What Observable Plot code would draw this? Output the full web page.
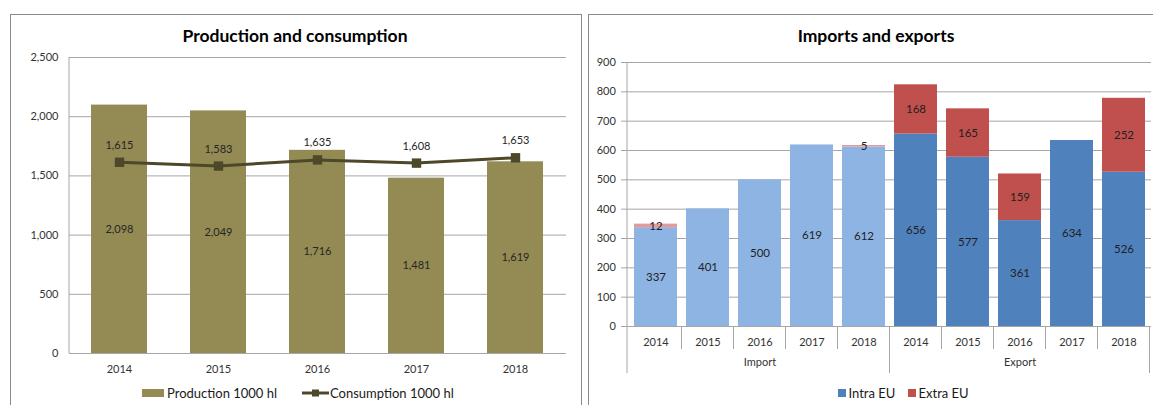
<!DOCTYPE html>
<html>
<head>
<meta charset="utf-8">
<script src="https://cdn.jsdelivr.net/npm/d3@7"></script>
<script src="https://cdn.jsdelivr.net/npm/@observablehq/plot@0.6"></script>
<style>
  html, body { margin: 0; padding: 0; background: #fff; }
  body { width: 1153px; height: 405px; overflow: hidden; position: relative; font-family: Lato, "Open Sans", sans-serif; }
  .panel { position: absolute; top: 14px; height: 430px; border: 1px solid #8a8a8a; box-sizing: border-box; }
  .title { position: absolute; top: 25px; font-weight: bold; font-size: 17.5px; color: #000; transform: translateX(-50%); white-space: nowrap; line-height: 22px; }
  .chart { position: absolute; top: 45px; }
  .item { position: absolute; top: 384px; height: 18px; display: flex; align-items: center; font-size: 13px; color: #1a1a1a; white-space: nowrap; }
  .sw { display: inline-block; margin-right: 3px; }
</style>
</head>
<body>
<div class="panel" style="left:10px; width:572px;"></div>
<div class="panel" style="left:588px; width:600px;"></div>
<div class="title" style="left:295px;">Production and consumption</div>
<div class="title" style="left:876px;">Imports and exports</div>
<div id="left" class="chart" style="left:0px;"></div>
<div id="right" class="chart" style="left:588px;"></div>

<div class="item" style="left:142px;"><span class="sw" style="width:22px;height:8px;background:#948A54;"></span>Production 1000 hl</div>
<div class="item" style="left:302px;">
  <svg width="27" height="10" style="margin-right:1px"><line x1="0" x2="27" y1="5" y2="5" stroke="#4D4829" stroke-width="3"/><rect x="10" y="1.5" width="7" height="7" fill="#4D4829"/></svg>Consumption 1000 hl</div>
<div class="item" style="left:838px;"><span class="sw" style="width:7.5px;height:7.5px;background:#4F81BD;"></span>Intra EU</div>
<div class="item" style="left:908px;"><span class="sw" style="width:7.5px;height:7.5px;background:#C0504D;"></span>Extra EU</div>

<script>
// Production and consumption, 1000 hl
const years = ["2014", "2015", "2016", "2017", "2018"];
const production = [2098, 2049, 1716, 1481, 1619];
const consumption = [1615, 1583, 1635, 1608, 1653];
const leftTicks = [0, 500, 1000, 1500, 2000, 2500];

// Imports and exports, split into intra‑EU and extra‑EU trade
const flows = ["Import", "Export"];
const origins = ["Intra EU", "Extra EU"];
const importIntra = [337, 401, 500, 619, 612];
const importExtra = [12, 0, 0, 0, 5];
const exportIntra = [656, 577, 361, 634, 526];
const exportExtra = [168, 165, 159, 0, 252];
const rightTicks = [0, 100, 200, 300, 400, 500, 600, 700, 800, 900];

const fmt = d3.format(",");
const gridColor = "#a6a6a6";
const baseStyle = {fontFamily: "Lato, 'Open Sans', sans-serif", fontSize: "11px", color: "#333", background: "transparent", overflow: "visible"};

// ---- left chart ----
const prodRows = years.map((year, i) => ({year, value: production[i]}));
const consRows = years.map((year, i) => ({year, value: consumption[i]}));

const left = Plot.plot({
  width: 581, height: 335,
  marginLeft: 69, marginRight: 15, marginTop: 12, marginBottom: 27,
  style: baseStyle,
  x: {domain: years, paddingInner: 0.433, paddingOuter: 0.2165, label: null},
  y: {domain: [0, 2500], label: null},
  marks: [
    Plot.gridY(leftTicks, {stroke: gridColor, strokeOpacity: 1}),
    Plot.barY(prodRows, {x: "year", y: "value", fill: "#948A54"}),
    Plot.text(prodRows, Plot.stackY({x: "year", y: "value", text: d => fmt(d.value), fill: "#262626"})),
    Plot.line(consRows, {x: "year", y: "value", stroke: "#4D4829", strokeWidth: 3}),
    Plot.dot(consRows, {x: "year", y: "value", symbol: "square", r: 5.3, fill: "#4D4829"}),
    Plot.text(consRows, {x: "year", y: "value", text: d => fmt(d.value), dy: -17, fill: "#262626"}),
    Plot.axisY({ticks: leftTicks, tickFormat: fmt, tickSize: 0, tickPadding: 11, color: "#333"}),
    Plot.axisX({tickSize: 0, tickPadding: 12, color: "#333"})
  ]
});
document.getElementById("left").append(left);
{
  const sy = left.scale("y"), sx = left.scale("x");
  d3.select(left).append("line")
    .attr("x1", sx.range[0]).attr("x2", sx.range[0])
    .attr("y1", sy.apply(2500)).attr("y2", sy.apply(0))
    .attr("stroke", gridColor);
}

// ---- right chart ----
const keys = flows.flatMap(f => years.map(y => `${f} ${y}`));
const tradeRows = [];
flows.forEach(flow => years.forEach((year, i) => {
  const intra = flow === "Import" ? importIntra[i] : exportIntra[i];
  const extra = flow === "Import" ? importExtra[i] : exportExtra[i];
  tradeRows.push({flow, year, key: `${flow} ${year}`, origin: origins[0], value: intra});
  tradeRows.push({flow, year, key: `${flow} ${year}`, origin: origins[1], value: extra});
}));

const right = Plot.plot({
  width: 565, height: 335,
  marginLeft: 39, marginRight: 2, marginTop: 17, marginBottom: 54,
  style: baseStyle,
  x: {domain: keys, paddingInner: 0.18, paddingOuter: 0.09, label: null},
  y: {domain: [0, 900], label: null},
  color: {
    domain: ["Import Intra EU", "Import Extra EU", "Export Intra EU", "Export Extra EU"],
    range: ["#8EB4E3", "#E39B9A", "#4F81BD", "#C0504D"]
  },
  marks: [
    Plot.gridY(rightTicks, {stroke: gridColor, strokeOpacity: 1}),
    Plot.barY(tradeRows, Plot.stackY({x: "key", y: "value", z: "origin", fill: d => `${d.flow} ${d.origin}`})),
    Plot.text(tradeRows, Plot.stackY({filter: d => d.value > 0, x: "key", y: "value", z: "origin", text: "value", fill: "#1f1f1f", fontSize: 11.5})),
    Plot.axisY({ticks: rightTicks, tickSize: 6, tickPadding: 5.7, stroke: gridColor, color: "#333"}),
    Plot.axisX({tickSize: 0, tickPadding: 12, tickFormat: k => k.split(" ")[1], color: "#333"}),
    Plot.text(flows, {x: f => `${f} ${years[2]}`, frameAnchor: "bottom", dy: 39, text: d => d, fill: "#333"})
  ]
});
document.getElementById("right").append(right);
{
  const sx = right.scale("x"), sy = right.scale("y");
  const gap = (sx.step - sx.bandwidth) / 2;
  const y0 = sy.apply(0);
  const g = d3.select(right).append("g").attr("stroke", gridColor);
  // value axis line continues down into the category axis
  g.append("line").attr("x1", sx.range[0]).attr("x2", sx.range[0])
    .attr("y1", sy.apply(900)).attr("y2", y0 + 47);
  // separators between years, longer ones between the two flows
  keys.forEach((k, i) => {
    if (i === 0) return;
    const x = sx.apply(k) - gap;
    g.append("line").attr("x1", x).attr("x2", x).attr("y1", y0)
      .attr("y2", y0 + (i % years.length === 0 ? 47 : 23));
  });
  const xe = sx.apply(keys[keys.length - 1]) + sx.bandwidth + gap;
  g.append("line").attr("x1", xe).attr("x2", xe).attr("y1", y0).attr("y2", y0 + 47);
}
</script>
</body>
</html>
